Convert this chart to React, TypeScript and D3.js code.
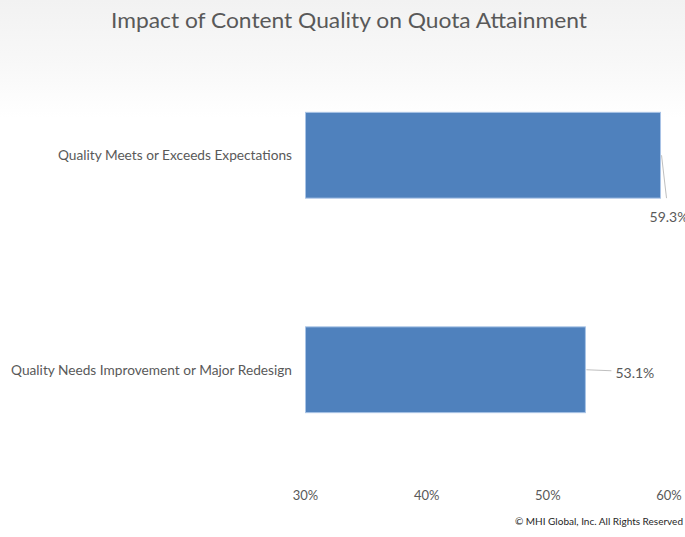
import React from "react";
import * as d3 from "d3";

const categories = ["Quality Meets or Exceeds Expectations", "Quality Needs Improvement or Major Redesign"];
const values = [59.3, 53.1];
const tickValues = [30, 40, 50, 60];
const title = "Impact of Content Quality on Quota Attainment";
const footer = "\u00A9 MHI Global, Inc. All Rights Reserved";

const W = 685;
const H = 537;
const FONT = "Lato, 'Open Sans', sans-serif";
const TEXT = "#595959";

export default function App() {
  const x = d3.scaleLinear().domain([30, 60]).range([305.5, 669]);
  const y = d3.scaleBand<string>().domain(categories).range([48, 477]).paddingInner(0.6).paddingOuter(0.3);

  return (
    <svg width={W} height={H} style={{ position: "absolute", left: 0, top: 0, display: "block" }}>
      <defs>
        <linearGradient id="bg" x1="0" y1="0" x2="0" y2="1">
          <stop offset="0" stopColor="#f2f2f2" />
          <stop offset="0.12" stopColor="#f8f8f8" />
          <stop offset="0.22" stopColor="#ffffff" />
        </linearGradient>
      </defs>
      <rect x={0} y={0} width={W} height={H} fill="url(#bg)" />
      <text x={349} y={28} textAnchor="middle" fontFamily={FONT} fontSize={21.5} fill={TEXT}
        textLength={476} lengthAdjust="spacingAndGlyphs">{title}</text>

      {categories.map((c, i) => {
        const y0 = y(c)!;
        const bw = y.bandwidth();
        const cy = y0 + bw / 2;
        const xe = x(values[i]);
        return (
          <g key={c}>
            <rect x={x(30)} y={y0} width={xe - x(30)} height={bw} fill="#4f81bd" stroke="#a9c4e6" strokeWidth={1} />
            <text x={292} y={cy + 5} textAnchor="end" fontFamily={FONT} fontSize={13.7} fill={TEXT}>{c}</text>
            {i === 0 ? (
              <g>
                <line x1={xe + 1} y1={cy} x2={xe + 6} y2={y0 + bw} stroke="#bfbfbf" strokeWidth={1} />
                <text x={xe - 11} y={y0 + bw + 24} fontFamily={FONT} fontSize={14} fill={TEXT}>{values[i].toFixed(1)}%</text>
              </g>
            ) : (
              <g>
                <line x1={xe + 1} y1={cy} x2={xe + 26} y2={cy + 1} stroke="#bfbfbf" strokeWidth={1} />
                <text x={xe + 30} y={cy + 8} fontFamily={FONT} fontSize={14} fill={TEXT}>{values[i].toFixed(1)}%</text>
              </g>
            )}
          </g>
        );
      })}

      {tickValues.map((t) => (
        <text key={t} x={x(t)} y={500} textAnchor="middle" fontFamily={FONT} fontSize={13} fill={TEXT}>{t}%</text>
      ))}

      <text x={683} y={525} textAnchor="end" fontFamily={FONT} fontSize={10} fill="#262626">{footer}</text>
    </svg>
  );
}
